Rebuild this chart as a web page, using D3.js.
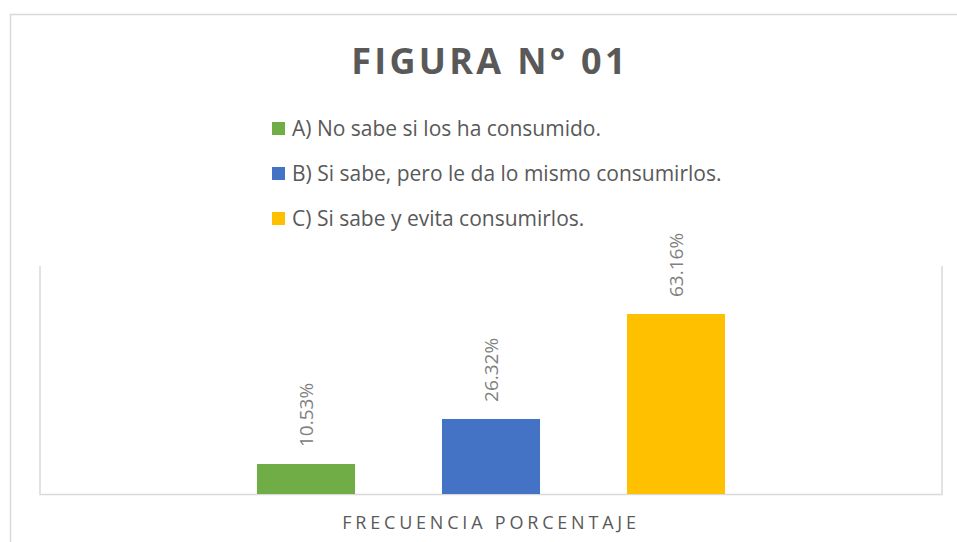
<!DOCTYPE html>
<html>
<head>
<meta charset="utf-8">
<script src="https://cdn.jsdelivr.net/npm/d3@7"></script>
<style>
  body { margin: 0; background: #fff; }
  text { font-family: "Open Sans", sans-serif; }
</style>
</head>
<body>
<div id="chart"></div>
<script>
// data
const categories = ["FRECUENCIA PORCENTAJE"];
const series = [
    "A) No sabe si los ha consumido.",
    "B) Si sabe, pero le da lo mismo consumirlos.",
    "C) Si sabe y evita consumirlos."
];
const values = [10.53, 26.32, 63.16];
const colors = ["#70AD47", "#4472C4", "#FFC000"];
const yMax = 80;

const width = 957, height = 542;
// plot area
const plot = { left: 40, right: 942, top: 266, bottom: 494 };

const svg = d3.select("#chart").append("svg")
    .attr("width", width)
    .attr("height", height);

// outer chart border (only top and left visible in the crop)
svg.append("path")
    .attr("d", "M10.5," + (height + 5) + " V14.5 H" + (width + 5))
    .attr("fill", "none")
    .attr("stroke", "#d9d9d9")
    .attr("stroke-width", 1.5);

// title
svg.append("text")
    .attr("x", 490)
    .attr("y", 74)
    .attr("text-anchor", "middle")
    .attr("font-size", 36)
    .attr("font-weight", "bold")
    .attr("letter-spacing", 3.3)
    .attr("fill", "#595959")
    .text("FIGURA N° 01");

// legend
const legend = svg.selectAll(".legend")
    .data(series)
    .enter().append("g")
    .attr("class", "legend")
    .attr("transform", (d, i) => "translate(272," + (128.5 + i * 45) + ")");

legend.append("rect")
    .attr("x", 0)
    .attr("y", -6.5)
    .attr("width", 13)
    .attr("height", 13)
    .attr("fill", (d, i) => colors[i]);

legend.append("text")
    .attr("x", 20)
    .attr("y", 7.5)
    .attr("font-size", 21)
    .attr("fill", "#595959")
    .text(d => d);

// scales
const x0 = d3.scaleBand()
    .domain(categories)
    .range([plot.left, plot.right]);

const groupCenter = x0(categories[0]) + x0.bandwidth() / 2;
const x1 = d3.scaleBand()
    .domain(series)
    .range([groupCenter - 277.5, groupCenter + 277.5])
    .paddingInner(0.47)
    .paddingOuter(0.235);

const y = d3.scaleLinear()
    .domain([0, yMax])
    .range([plot.bottom, plot.top]);

// plot area frame: left, right, bottom
svg.append("path")
    .attr("d", "M" + plot.left + "," + plot.top + " V" + (plot.bottom + 0.5) +
        " H" + plot.right + " V" + plot.top)
    .attr("fill", "none")
    .attr("stroke", "#d9d9d9")
    .attr("stroke-width", 1.5);

// bars
svg.selectAll(".bar")
    .data(values)
    .enter().append("rect")
    .attr("class", "bar")
    .attr("x", (d, i) => x1(series[i]))
    .attr("y", d => y(d))
    .attr("width", x1.bandwidth())
    .attr("height", d => y(0) - y(d))
    .attr("fill", (d, i) => colors[i]);

// value labels, rotated
svg.selectAll(".label")
    .data(values)
    .enter().append("text")
    .attr("class", "label")
    .attr("transform", (d, i) => "translate(" + (x1(series[i]) + x1.bandwidth() / 2 + 6.5) +
        "," + (y(d) - 17) + ") rotate(-90)")
    .attr("font-size", 19)
    .attr("fill", "#808080")
    .text(d => d.toFixed(2) + "%");

// category axis label
svg.append("text")
    .attr("x", groupCenter)
    .attr("y", 529)
    .attr("text-anchor", "middle")
    .attr("font-size", 18)
    .attr("letter-spacing", 3.8)
    .attr("fill", "#595959")
    .text(categories[0]);
</script>
</body>
</html>
